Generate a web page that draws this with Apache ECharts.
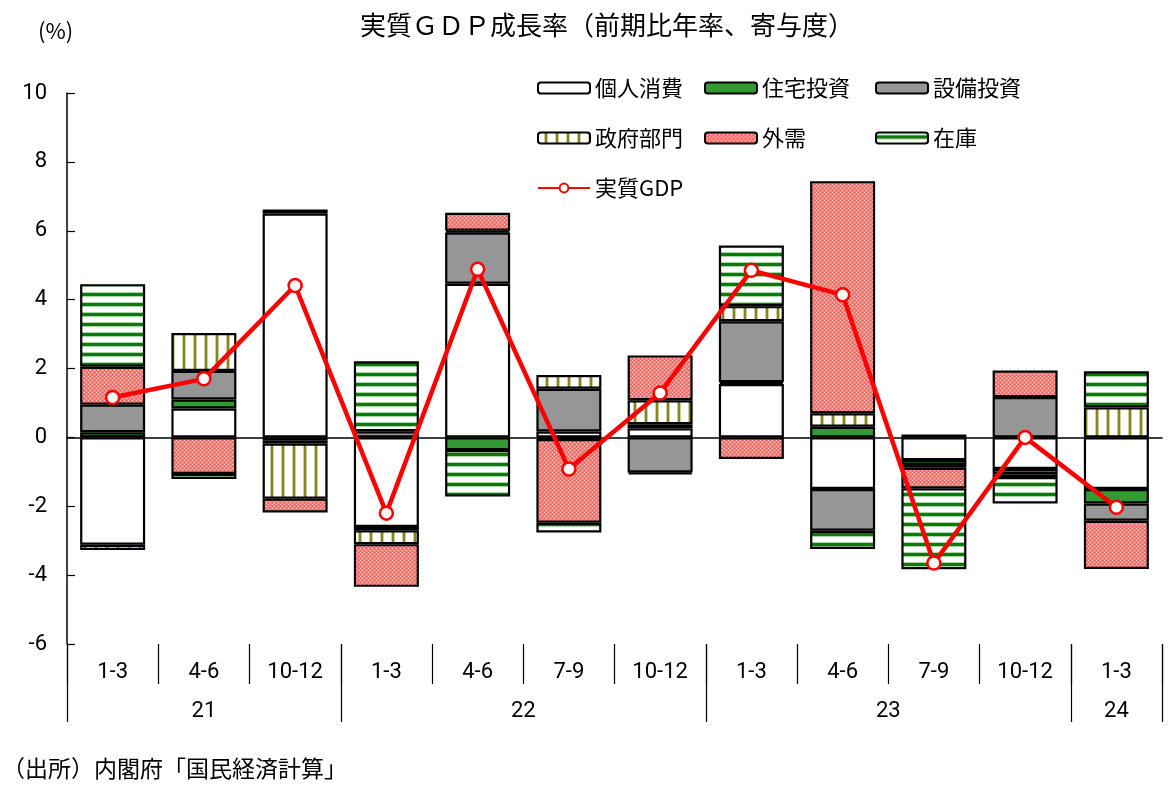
<!DOCTYPE html>
<html><head><meta charset="utf-8">
<script src="https://cdn.jsdelivr.net/npm/echarts@6/dist/echarts.min.js"></script>
<style>html,body{margin:0;padding:0;background:#fff}#c{width:1172px;height:798px}</style>
</head><body><div id="c"></div>
<script>
// ---- data ----
const quarters = ['1-3','4-6','10-12','1-3','4-6','7-9','10-12','1-3','4-6','7-9','10-12','1-3'];
const years = ['21','22','23','24'];
const quartersPerYear = [3,4,4,1];
const consumption = [-3.12, 0.84, 6.50, -2.60, 4.46, 0.17, 0.26, 1.55, -1.50, -0.66, -0.92, -1.50];
const housing     = [ 0.15, 0.26, -0.08, -0.10, -0.37, -0.05, 0.12, 0.05, 0.31, -0.14, -0.15, -0.42];
const capex       = [ 0.80, 0.83, -0.10, 0.18, 1.49, 1.24, -1.02, 1.77, -1.21, -0.08, 1.17, -0.50];
const government  = [-0.15, 1.10, -1.60, -0.40, 0.05, 0.40, 0.70, 0.44, 0.39, 0.08, -0.08, 0.87];
const external    = [ 1.10, -1.06, -0.40, -1.24, 0.52, -2.43, 1.30, -0.63, 6.74, -0.60, 0.77, -1.40];
const inventory   = [ 2.40, -0.15, 0.12, 2.03, -1.35, -0.28, -0.05, 1.76, -0.53, -2.35, -0.77, 1.05];
const gdp         = [ 1.16, 1.70, 4.41, -2.20, 4.88, -0.92, 1.29, 4.85, 4.14, -3.65, 0.00, -2.03];
const names = ['個人消費','住宅投資','設備投資','政府部門','外需','在庫','実質GDP'];

// ---- patterns ----
function mk(w,h,draw){const c=document.createElement('canvas');c.width=w;c.height=h;const g=c.getContext('2d');draw(g);return c;}
const invPat = mk(10,10,g=>{
  g.fillStyle='#fff';g.fillRect(0,0,10,10);
  g.fillStyle='#a8d8a8';g.fillRect(0,2,10,1);g.fillRect(0,6,10,1);
  g.fillStyle='#0a7a0a';g.fillRect(0,3,10,3);
});
const govPat = mk(11,10,g=>{
  g.fillStyle='#fff';g.fillRect(0,0,11,10);
  g.fillStyle='#cfcf9a';g.fillRect(6,0,1,10);g.fillRect(9,0,1,10);
  g.fillStyle='#85851f';g.fillRect(7,0,2,10);
});
const extPat = mk(4,4,g=>{
  g.fillStyle='#ff7a7a';g.fillRect(0,0,4,4);
  g.fillStyle='#ffd0d0';g.fillRect(0,0,1,1);g.fillRect(2,2,1,1);
  g.fillStyle='#ff5555';g.fillRect(2,0,1,1);g.fillRect(0,2,1,1);
});

const fills = ['#ffffff','#339933','#969696',{image:govPat,repeat:'repeat'},{image:extPat,repeat:'repeat'},{image:invPat,repeat:'repeat'}];
const vals = [consumption,housing,capex,government,external,inventory];

// multi-level axis slots
const nSlots = quarters.length*2+1;
const qSlots = [], ySlots = [];
for(let i=0;i<nSlots;i++){ qSlots.push(i%2===1 ? quarters[(i-1)/2] : ''); ySlots.push(''); }
const yearBounds = [0]; let acc=0;
quartersPerYear.forEach((n,k)=>{ const s=acc*2, e=(acc+n)*2; ySlots[(s+e)/2]=years[k]; acc+=n; yearBounds.push(e); });

const chart = echarts.init(document.getElementById('c'));
const numFont = 'Roboto, "Noto Sans CJK JP", sans-serif';
const jpFont = '"Noto Sans CJK JP", sans-serif';

const series = vals.map((v,i)=>({
  name:names[i], type:'bar', stack:'total', xAxisIndex:0, yAxisIndex:0, barWidth:65,
  itemStyle:{color:fills[i], borderColor:'#000', borderWidth:2.2},
  emphasis:{disabled:true}, data:v
}));
series.push({
  name:names[6], type:'line', xAxisIndex:0, yAxisIndex:0, z:10, data:gdp,
  lineStyle:{color:'#ff0000', width:4.5},
  itemStyle:{color:'#ffffff', borderColor:'#ff0000', borderWidth:2.5},
  symbol:'circle', symbolSize:13, showSymbol:true
});

const legendBase = {orient:'vertical', itemWidth:52, itemHeight:11, itemGap:24, top:70,
  textStyle:{fontFamily:jpFont, fontSize:22, color:'#000', lineHeight:26}, selectedMode:false};

chart.setOption({
  animation:false,
  grid:{left:67, right:10, top:93, bottom:154},
  legend:[
    Object.assign({}, legendBase, {left:532, data:['個人消費','政府部門','実質GDP']}),
    Object.assign({}, legendBase, {left:699, data:['住宅投資','外需']}),
    Object.assign({}, legendBase, {left:870, data:['設備投資','在庫']})
  ],
  xAxis:[
    {type:'category', data:quarters, position:'bottom',
     axisLine:{onZero:true, lineStyle:{color:'#000', width:1.5}},
     axisTick:{inside:true, length:6, lineStyle:{color:'#000', width:1.2}},
     axisLabel:{show:false}},
    {type:'category', data:qSlots, position:'bottom', boundaryGap:false,
     axisLine:{show:false, onZero:false},
     axisTick:{show:true, inside:false, length:40, interval:(i)=>i%2===0, lineStyle:{color:'#000', width:1.2}},
     axisLabel:{interval:0, margin:17, fontFamily:numFont, fontSize:22, color:'#000'}},
    {type:'category', data:ySlots, position:'bottom', boundaryGap:false,
     axisLine:{show:false, onZero:false},
     axisTick:{show:true, inside:false, length:78, interval:(i)=>yearBounds.indexOf(i)>=0, lineStyle:{color:'#000', width:1.2}},
     axisLabel:{interval:0, margin:56, fontFamily:numFont, fontSize:22, color:'#000'}}
  ],
  yAxis:{type:'value', min:-6, max:10, interval:2,
    axisLine:{show:true, lineStyle:{color:'#000', width:1.5}},
    axisTick:{show:true, inside:true, length:8, lineStyle:{color:'#000', width:1.2}},
    splitLine:{show:false},
    axisLabel:{margin:20, fontFamily:numFont, fontSize:22, color:'#000'}},
  graphic:[
    {type:'text', left:360, top:12, style:{text:'実質ＧＤＰ成長率（前期比年率、寄与度）', font:'26px "Noto Sans CJK JP", sans-serif', fill:'#000'}},
    {type:'text', left:38, top:20, style:{text:'(%)', font:'22px "Noto Sans CJK JP", sans-serif', fill:'#000'}},
    {type:'text', left:2, top:757, style:{text:'（出所）内閣府「国民経済計算」', font:'23px "Noto Sans CJK JP", sans-serif', fill:'#000'}}
  ],
  series:series
});
</script></body></html>
